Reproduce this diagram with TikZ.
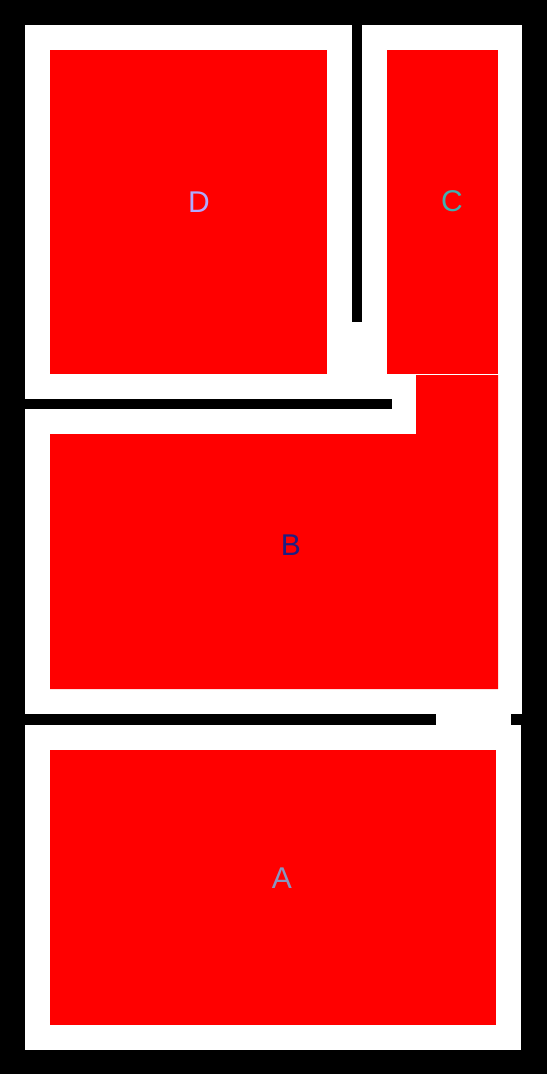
\documentclass[tikz,border=0pt]{standalone}
\usepackage{fontspec}
\setmainfont{Liberation Sans}
\definecolor{labD}{RGB}{176,170,255}
\definecolor{labC}{RGB}{64,176,176}
\definecolor{labB}{RGB}{30,30,130}
\definecolor{labA}{RGB}{136,150,192}
\begin{document}
\begin{tikzpicture}[x=1pt,y=-1pt,
  wall/.style={fill=black},
  room/.style={fill=red},
  lab/.style={font=\fontsize{30}{30}\selectfont, inner sep=0pt}]
\fill[black] (0,0) rectangle (547,1074);
\useasboundingbox (0,0) rectangle (547,1074);
% white floor
\fill[white] (25,25) rectangle (522,1050);
\fill[black] (522,25) rectangle (523,1050);
\fill[black] (521,725) rectangle (523,1050);
% walls
\fill[wall] (352,25) rectangle (362,322);
\fill[wall] (25,399) rectangle (392,409);
\fill[wall] (25,714) rectangle (436,725);
\fill[wall] (511,714) rectangle (522,725);
% rooms
\fill[room] (50,50) rectangle (327,374);
\fill[room] (387,50) rectangle (498,374);
\fill[room] (50,434) -- (416,434) -- (416,375) -- (498,375) -- (498,689) -- (50,689) -- cycle;
\fill[room] (50,750) rectangle (496,1025);
% labels
\node[lab, text=labD] (d) at (199,202) {D};
\node[lab, text=labC] (c) at (452,201) {C};
\node[lab, text=labB] (b) at (291,545) {B};
\node[lab, text=labA] (a) at (282,878) {A};
\end{tikzpicture}
\end{document}
